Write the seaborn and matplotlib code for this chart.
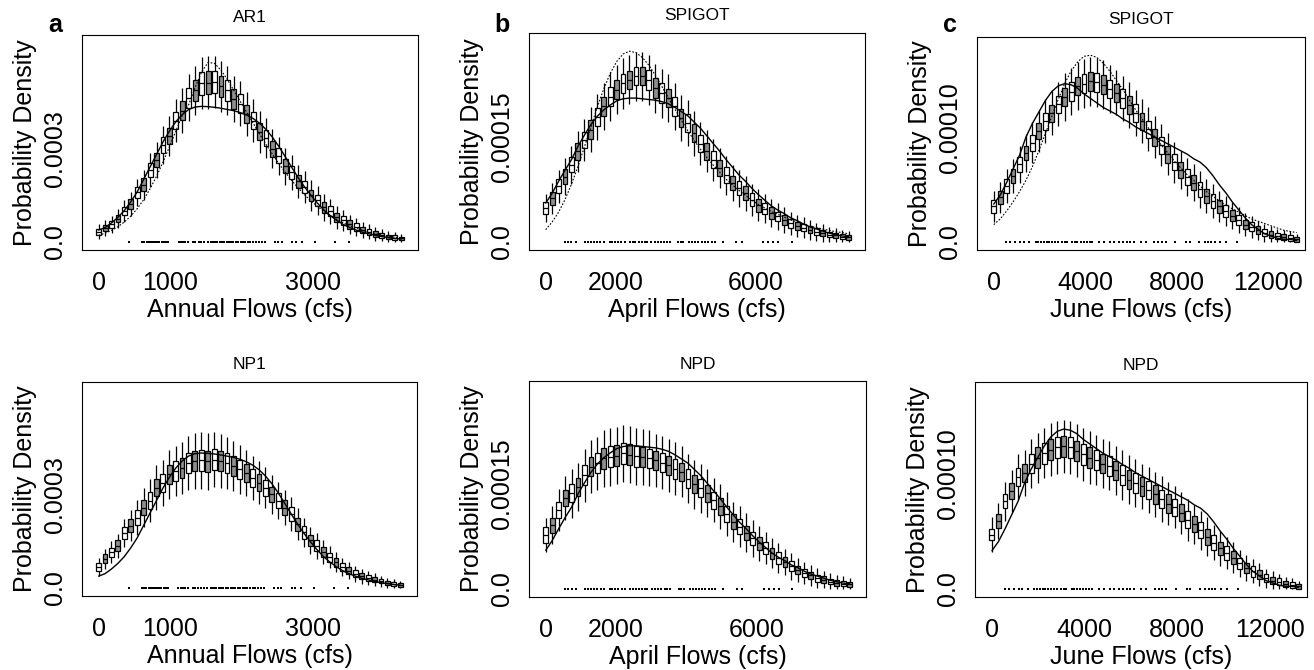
import numpy as np
import pandas as pd
import matplotlib
matplotlib.use('Agg')
import matplotlib.pyplot as plt
import seaborn as sns

# evaluation grids (cfs)
x_annual = [0, 90, 180, 270, 360, 450, 540, 630, 720, 810, 900, 990, 1080, 1170, 1260, 1350,
            1440, 1530, 1620, 1710, 1800, 1890, 1980, 2070, 2160, 2250, 2340, 2430, 2520, 2610,
            2700, 2790, 2880, 2970, 3060, 3150, 3240, 3330, 3420, 3510, 3600, 3690, 3780, 3870,
            3960, 4050, 4140, 4230]
x_april = [0, 184, 368, 552, 736, 920, 1104, 1288, 1472, 1656, 1840, 2024, 2208, 2392, 2576,
           2760, 2944, 3128, 3312, 3496, 3680, 3864, 4048, 4232, 4416, 4600, 4784, 4968, 5152,
           5336, 5520, 5704, 5888, 6072, 6256, 6440, 6624, 6808, 6992, 7176, 7360, 7544, 7728,
           7912, 8096, 8280, 8464, 8648]
x_june = [0, 282, 564, 846, 1128, 1410, 1692, 1974, 2256, 2538, 2820, 3102, 3384, 3666, 3948,
          4230, 4512, 4794, 5076, 5358, 5640, 5922, 6204, 6486, 6768, 7050, 7332, 7614, 7896,
          8178, 8460, 8742, 9024, 9306, 9588, 9870, 10152, 10434, 10716, 10998, 11280, 11562,
          11844, 12126, 12408, 12690, 12972, 13254]

# historical density (solid) and fitted model density (dotted), units of 1e-6
solid_annual = [37, 45, 60, 78, 100, 128, 160, 200, 240, 280, 320, 355, 385, 408, 424, 432, 434,
                433, 431, 428, 424, 420, 414, 406, 395, 380, 360, 335, 305, 272, 238, 205, 175,
                148, 123, 101, 83, 68, 55, 45, 37, 30, 25, 20, 16, 13, 10, 8]
dotted_annual = [20, 27, 36, 48, 63, 82, 106, 135, 170, 210, 255, 305, 355, 405, 440, 495, 545,
                 575, 572, 550, 520, 485, 450, 415, 380, 345, 312, 280, 250, 222, 196, 172, 150,
                 130, 113, 97, 83, 71, 60, 51, 43, 36, 30, 25, 21, 17, 14, 12]
solid_april = [55, 69, 86, 102, 117, 136, 152, 167, 179, 188, 195, 201, 204, 205, 205, 204, 203,
               202, 200, 197, 192, 186, 180, 171, 162, 151, 140, 129, 117, 106, 95, 86, 76, 67,
               59, 51, 45, 40, 34, 30, 25, 21, 18, 15, 12, 10, 8, 7]
dotted_april = [17, 28, 42, 60, 82, 107, 135, 163, 192, 218, 240, 257, 268, 272, 270, 263, 252,
                238, 222, 206, 190, 174, 159, 145, 132, 120, 109, 99, 89, 81, 73, 66, 59, 53, 48,
                43, 39, 35, 31, 28, 25, 22, 20, 18, 16, 14, 13, 11]
solid_june = [33, 41, 52, 64, 76, 92, 104, 114, 124, 132, 137, 139, 138, 135, 130, 126, 122, 118,
              115, 112, 108, 105, 101, 98, 95, 92, 89, 86, 83, 80, 77, 73, 70, 65, 58, 50, 43,
              35, 28, 21, 15, 11, 7, 5, 3, 2, 2, 1]
dotted_june = [15, 20, 27, 35, 44, 54, 66, 80, 95, 110, 125, 139, 150, 158, 163, 164, 162, 157,
               150, 142, 134, 125, 116, 108, 100, 92, 85, 78, 71, 65, 59, 54, 49, 44, 40, 36, 32,
               29, 26, 23, 20, 18, 16, 14, 12, 10, 9, 8]

# observed flows (rug at zero)
obs_annual = [430, 610, 640, 670, 700, 730, 760, 790, 820, 850, 880, 910, 940, 975, 1120, 1150,
              1180, 1210, 1250, 1320, 1350, 1400, 1430, 1475, 1525, 1570, 1605, 1630, 1650,
              1690, 1720, 1750, 1790, 1820, 1850, 1880, 1915, 1950, 1985, 2020, 2050, 2085,
              2120, 2160, 2200, 2240, 2280, 2320, 2465, 2510, 2560, 2710, 2760, 2840, 3020,
              3300, 3500]
obs_april = [545, 640, 735, 875, 1115, 1200, 1290, 1380, 1470, 1560, 1655, 1830, 1900, 1980,
             2070, 2160, 2255, 2400, 2480, 2560, 2650, 2740, 2830, 2895, 3020, 3115, 3200, 3290,
             3380, 3460, 3545, 3780, 3850, 3925, 4095, 4180, 4270, 4360, 4450, 4545, 4640, 4740,
             4830, 5050, 5430, 5590, 6210, 6350, 6500, 6640, 7020]
obs_june = [556, 730, 950, 1170, 1320, 1540, 1830, 1950, 2070, 2190, 2310, 2430, 2560, 2700,
            2830, 2970, 3100, 3220, 3440, 3550, 3660, 3810, 3940, 4060, 4190, 4320, 4610, 4830,
            5100, 5270, 5490, 5650, 5820, 5980, 6150, 6440, 6660, 7030, 7200, 7370, 7540, 7940,
            8420, 8570, 9000, 9220, 9370, 9520, 9660, 9880, 10180, 10620]

# simulated density boxplots: median, box height, whisker length (1e-6)
med_a = [32, 43, 56, 74, 98, 120, 158, 183, 230, 262, 310, 340, 388, 420, 462, 485, 508, 510, 512,
         498, 485, 458, 443, 410, 388, 352, 333, 298, 275, 242, 222, 193, 175, 148, 132, 110, 97,
         78, 68, 55, 47, 37, 32, 24, 21, 15, 13, 10]
iqr_a = [20, 20, 22, 24, 28, 32, 36, 40, 44, 46, 50, 52, 56, 60, 64, 68, 72, 74, 72, 70, 66, 62,
         60, 58, 56, 54, 52, 50, 48, 46, 44, 42, 40, 38, 36, 34, 32, 30, 28, 26, 24, 22, 20, 18,
         16, 15, 14, 12]
wh_a = [14, 15, 16, 18, 20, 22, 26, 28, 32, 34, 36, 38, 40, 42, 44, 46, 48, 48, 48, 46, 46, 44,
        42, 42, 40, 40, 38, 38, 36, 36, 34, 32, 32, 30, 28, 26, 24, 22, 20, 18, 16, 15, 14, 13,
        12, 11, 10, 9]

med_b = [48, 62, 79, 93, 110, 129, 145, 160, 178, 193, 207, 217, 226, 231, 236, 236, 231, 219,
         212, 205, 193, 176, 169, 155, 140, 129, 117, 105, 95, 84, 76, 69, 60, 52, 47, 41, 36, 31,
         26, 22, 20, 17, 14, 12, 10, 9, 7, 6]
iqr_b = [16, 18, 20, 22, 22, 24, 24, 26, 26, 28, 28, 28, 28, 26, 26, 26, 28, 28, 28, 26, 26, 26,
         26, 26, 24, 24, 24, 22, 22, 20, 20, 20, 18, 18, 16, 16, 14, 14, 12, 12, 11, 10, 10, 9,
         8, 8, 7, 7]
wh_b = [12, 13, 14, 15, 16, 17, 18, 19, 20, 20, 21, 21, 22, 22, 22, 22, 22, 21, 21, 21, 20, 20,
        20, 19, 19, 18, 18, 17, 17, 16, 16, 15, 14, 14, 13, 12, 12, 11, 10, 10, 9, 9, 8, 8, 7, 7,
        6, 6]

med_c = [31, 39, 49, 58, 68, 78, 87, 97, 106, 113, 121, 127, 132, 137, 139, 141, 140, 138, 134,
         131, 126, 120, 113, 106, 99, 92, 85, 77, 70, 63, 57, 52, 46, 40, 36, 31, 27, 23, 19, 15,
         13, 10, 8, 6, 5, 4, 3, 2]
iqr_c = [11, 11, 12, 12, 13, 13, 14, 14, 15, 15, 15, 16, 16, 16, 17, 17, 17, 17, 16, 16, 16, 16,
         16, 15, 15, 15, 15, 15, 14, 14, 14, 13, 13, 12, 12, 11, 10, 10, 9, 8, 8, 7, 6, 6, 5, 5,
         5, 4]
wh_c = [8, 8, 9, 9, 10, 10, 11, 11, 12, 12, 12, 13, 13, 13, 13, 13, 13, 13, 13, 12, 12, 12, 12,
        12, 12, 11, 11, 11, 11, 10, 10, 10, 10, 9, 9, 8, 8, 7, 7, 6, 6, 5, 5, 5, 4, 4, 4, 3]

med_d = [68, 93, 114, 135, 175, 200, 226, 258, 280, 322, 338, 365, 376, 386, 402, 408, 410, 408,
         413, 408, 402, 392, 381, 370, 354, 338, 322, 301, 280, 258, 237, 205, 178, 152, 135, 114,
         98, 82, 66, 55, 45, 37, 31, 26, 21, 16, 12, 9]
iqr_d = [26, 28, 30, 34, 38, 42, 46, 50, 54, 56, 58, 60, 62, 64, 66, 66, 68, 68, 66, 66, 64, 62,
         60, 58, 56, 54, 52, 50, 48, 46, 44, 42, 40, 38, 36, 32, 30, 28, 26, 24, 22, 20, 18, 16,
         14, 13, 12, 11]
wh_d = [16, 18, 20, 22, 26, 30, 34, 38, 42, 44, 46, 48, 50, 52, 54, 56, 58, 58, 56, 54, 52, 50,
        48, 46, 44, 42, 40, 38, 36, 34, 32, 30, 28, 26, 24, 22, 20, 18, 17, 16, 15, 14, 13, 12,
        11, 10, 9, 8]

med_e = [77, 91, 113, 130, 137, 146, 163, 175, 180, 187, 189, 191, 194, 192, 190, 189, 187, 184,
         181, 177, 172, 168, 158, 150, 144, 137, 127, 118, 107, 96, 89, 80, 72, 65, 58, 51, 44,
         38, 32, 27, 22, 19, 15, 13, 10, 8, 7, 6]
iqr_e = [22, 22, 24, 24, 26, 26, 28, 28, 28, 30, 30, 30, 30, 30, 30, 28, 28, 28, 28, 28, 28, 26,
         26, 26, 26, 24, 24, 24, 22, 22, 22, 20, 20, 18, 18, 16, 16, 14, 14, 12, 12, 10, 10, 9,
         8, 8, 7, 7]
wh_e = [14, 16, 18, 20, 22, 22, 24, 24, 24, 26, 26, 26, 26, 26, 26, 26, 26, 24, 24, 24, 24, 24,
        22, 22, 22, 22, 20, 20, 20, 18, 18, 18, 16, 16, 14, 14, 13, 12, 12, 11, 10, 10, 9, 8, 8,
        7, 7, 6]

med_f = [47, 59, 76, 85, 97, 101, 109, 114, 118, 121, 123, 124, 123, 120, 117, 114, 112, 109,
         107, 103, 99, 95, 92, 89, 86, 82, 78, 74, 71, 66, 60, 56, 51, 45, 40, 35, 31, 27, 22,
         18, 15, 12, 9, 7, 6, 4, 3, 2]
iqr_f = [10, 12, 12, 14, 16, 16, 16, 18, 18, 18, 18, 18, 18, 18, 18, 18, 17, 17, 17, 17, 17, 17,
         17, 16, 16, 16, 16, 16, 15, 15, 15, 14, 14, 14, 13, 12, 12, 11, 10, 9, 9, 8, 7, 6, 6, 5,
         5, 4]
wh_f = [10, 10, 11, 11, 12, 12, 13, 13, 13, 14, 14, 14, 14, 14, 14, 14, 13, 13, 13, 13, 13, 13,
        12, 12, 12, 12, 12, 11, 11, 11, 11, 10, 10, 10, 9, 9, 8, 8, 7, 7, 6, 6, 5, 5, 4, 4, 4, 3]

W, H = 1314, 670


def px_rect(l, t, r, b):
    return [l / W, 1 - b / H, (r - l) / W, (b - t) / H]


def box_frame(x, med, iqr, wh):
    rows = []
    for i, (xv, m, q, w) in enumerate(zip(x, med, iqr, wh)):
        q1, q3 = m - q / 2, m + q / 2
        for v in (max(q1 - w, 0), q1, m, q3, q3 + w):
            rows.append({'x': xv, 'y': v * 1e-6, 'shade': 'g' if i % 2 else 'w'})
    return pd.DataFrame(rows)


def draw_panel(ax, x, med, iqr, wh, solid, dotted, obs, title, xlabel, xlim, ylim,
               xticks, xlabels, yticks, ylabels):
    df = box_frame(x, med, iqr, wh)
    sns.boxplot(data=df, x='x', y='y', hue='shade', native_scale=True, dodge=False,
                width=0.75, whis=(0, 100), showcaps=False, showfliers=False,
                linecolor='black', linewidth=0.9,
                palette={'w': 'white', 'g': '#8e8e8e'}, legend=False, ax=ax)
    sns.lineplot(x=x, y=np.array(solid) * 1e-6, color='black', linewidth=1.0, ax=ax)
    if dotted is not None:
        sns.lineplot(x=x, y=np.array(dotted) * 1e-6, color='black', linewidth=0.8,
                     linestyle=(0, (1.5, 1.5)), ax=ax)
    sns.scatterplot(x=obs, y=np.zeros(len(obs)), marker='s', s=2.5, color='black',
                    linewidth=0, ax=ax)

    ax.set_xlim(*xlim)
    ax.set_ylim(*ylim)
    ax.set_xticks(xticks)
    ax.set_xticklabels(xlabels)
    ax.set_yticks(yticks)
    ax.set_yticklabels(ylabels, rotation=90, va='center')
    ax.tick_params(direction='out', length=3, width=0.8, labelsize=18, colors='black')
    ax.tick_params(axis='x', pad=12)
    ax.tick_params(axis='y', pad=8)
    ax.set_xlabel(xlabel, fontsize=18, labelpad=2, color='black')
    ax.set_ylabel('Probability Density', fontsize=18, labelpad=4, color='black')
    ax.set_title(title, fontsize=12.5, pad=9, color='black')
    for sp in ax.spines.values():
        sp.set_linewidth(0.8)
        sp.set_color('black')


def main():
    sns.set_style('white')
    plt.rcParams['font.family'] = ['Liberation Sans', 'DejaVu Sans']
    plt.rcParams['text.color'] = 'black'

    fig = plt.figure(figsize=(W / 100, H / 100), dpi=100)

    col_a = dict(x=x_annual, xlabel='Annual Flows (cfs)', xlim=(-233, 4465),
                 ylim=(-27e-6, 663e-6), xticks=[0, 1000, 2000, 3000, 4000],
                 xlabels=['0', '1000', '', '3000', ''],
                 yticks=[0, 1e-4, 2e-4, 3e-4, 4e-4, 5e-4, 6e-4],
                 ylabels=['0.0', '', '', '0.0003', '', '', ''])
    col_b = dict(x=x_april, xlabel='April Flows (cfs)', xlim=(-476, 9114),
                 ylim=(-12e-6, 298e-6), xticks=[0, 2000, 4000, 6000, 8000],
                 xlabels=['0', '2000', '', '6000', ''],
                 yticks=[0, 5e-5, 1e-4, 1.5e-4, 2e-4, 2.5e-4],
                 ylabels=['0.0', '', '', '0.00015', '', ''])
    col_c = dict(x=x_june, xlabel='June Flows (cfs)', xlim=(-732, 13616),
                 ylim=(-7.3e-6, 180e-6), xticks=[0, 2000, 4000, 6000, 8000, 10000, 12000],
                 xlabels=['0', '', '4000', '', '8000', '', '12000'],
                 yticks=[0, 5e-5, 1e-4, 1.5e-4],
                 ylabels=['0.0', '', '0.00010', ''])

    panels = [
        (px_rect(82, 35, 418, 250), col_a, med_a, iqr_a, wh_a, solid_annual, dotted_annual, obs_annual, 'AR1'),
        (px_rect(529, 33, 865, 250), col_b, med_b, iqr_b, wh_b, solid_april, dotted_april, obs_april, 'SPIGOT'),
        (px_rect(977, 37, 1305, 250), col_c, med_c, iqr_c, wh_c, solid_june, dotted_june, obs_june, 'SPIGOT'),
        (px_rect(82, 382, 417, 596), col_a, med_d, iqr_d, wh_d, solid_annual, None, obs_annual, 'NP1'),
        (px_rect(529, 381, 866, 597), col_b, med_e, iqr_e, wh_e, solid_april, None, obs_april, 'NPD'),
        (px_rect(975, 382, 1307, 597), col_c, med_f, iqr_f, wh_f, solid_june, None, obs_june, 'NPD'),
    ]
    for rect, col, med, iqr, wh, solid, dotted, obs, title in panels:
        ax = fig.add_axes(rect)
        draw_panel(ax, col['x'], med, iqr, wh, solid, dotted, obs, title, col['xlabel'],
                   col['xlim'], col['ylim'], col['xticks'], col['xlabels'],
                   col['yticks'], col['ylabels'])

    for letter, xp in [('a', 55), ('b', 502), ('c', 950)]:
        fig.text(xp / W, 1 - 25 / H, letter, fontsize=18, fontweight='bold',
                 ha='center', va='center', color='black')

    fig.savefig('out.png', dpi=100)
    plt.close(fig)


if __name__ == '__main__':
    main()
